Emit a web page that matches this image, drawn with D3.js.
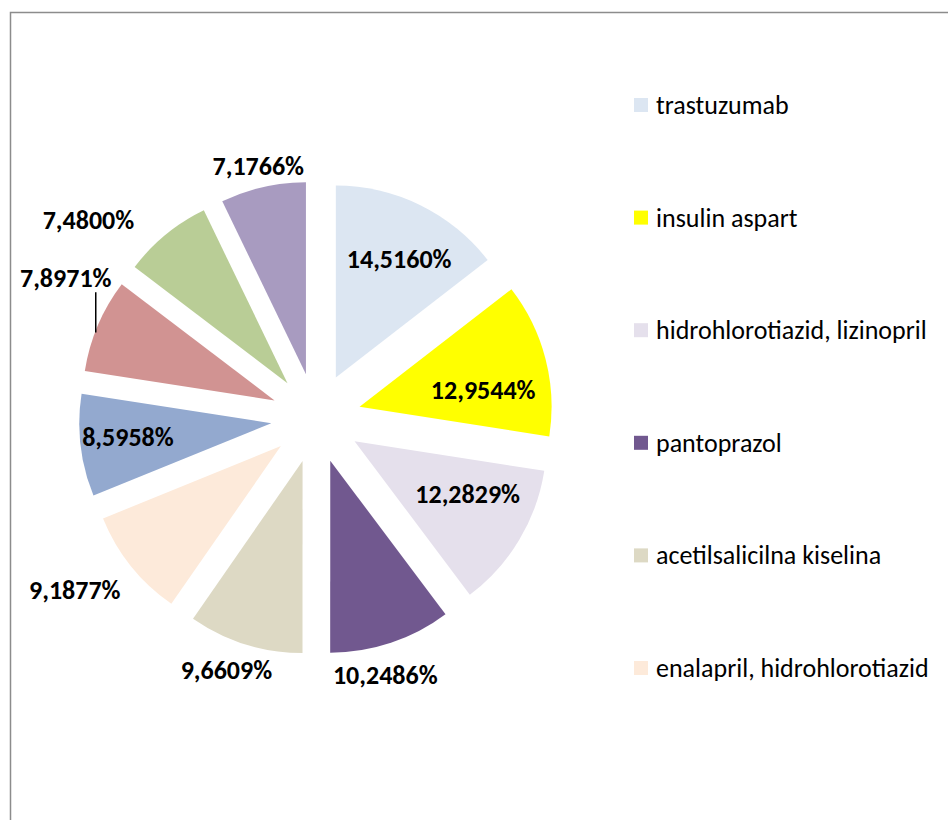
<!DOCTYPE html>
<html>
<head>
<meta charset="utf-8">
<script src="https://cdn.jsdelivr.net/npm/d3@7"></script>
<style>
  body { margin: 0; background: #fff; }
  svg { display: block; font-family: Carlito, Calibri, Lato, sans-serif; }
</style>
</head>
<body>
<svg id="piechart"></svg>
<script>
// slice names (only the first six appear in the legend of the original)
var categories = ["trastuzumab", "insulin aspart", "hidrohlorotiazid, lizinopril",
    "pantoprazol", "acetilsalicilna kiselina", "enalapril, hidrohlorotiazid",
    "", "", "", ""];
var shares = [14.5160, 12.9544, 12.2829, 10.2486, 9.6609, 9.1877, 8.5958, 7.8971, 7.4800, 7.1766];
var labels = ["14,5160%", "12,9544%", "12,2829%", "10,2486%", "9,6609%",
    "9,1877%", "8,5958%", "7,8971%", "7,4800%", "7,1766%"];
var colors = ["#dce6f2", "#ffff00", "#e5e0ec", "#71588f", "#ddd9c4",
    "#fdeada", "#93a9cf", "#d19392", "#b9cd96", "#a89bc0"];
var legendCount = 6;

var dimensions = {
    width: 948,
    height: 820,
    cx: 316,
    cy: 418,
    radius: 192,
    explode: 45
}

// label placement: distance as a fraction of the radius, and turn in degrees
var labelRadius = [0.70, 0.65, 0.65, 1.15, 1.16, 1.31, 0.75, 1.26, 1.34, 1.11];
var labelTurn = [2, 6.6, -6, 4, 2.6, 3.7, 1.2, 7.3, -11.4, 0];

var svg = d3.select("#piechart")
    .attr("width", dimensions.width)
    .attr("height", dimensions.height)

// chart area border (only top and left are inside the picture)
svg.append("path")
    .attr("d", "M10.5," + dimensions.height + "V12.5H" + (dimensions.width + 5))
    .attr("fill", "none")
    .attr("stroke", "#8c8c8c")
    .attr("stroke-width", 1.5)

var pie = d3.pie().sort(null).value(function(d) { return d; })
var arcs = pie(shares)

var arc = d3.arc().innerRadius(0).outerRadius(dimensions.radius)

function offset(d) {
    var a = (d.startAngle + d.endAngle) / 2
    return [dimensions.explode * Math.sin(a), -dimensions.explode * Math.cos(a)]
}

var g = svg.append("g")
    .attr("transform", "translate(" + dimensions.cx + "," + dimensions.cy + ")")

g.selectAll("path.slice")
    .data(arcs)
    .enter()
    .append("path")
    .attr("class", "slice")
    .attr("d", arc)
    .attr("fill", function(d, i) { return colors[i] })
    .attr("transform", function(d) {
        var o = offset(d)
        return "translate(" + o[0] + "," + o[1] + ")"
    })

function labelPos(d, i) {
    var o = offset(d)
    var a = (d.startAngle + d.endAngle) / 2 + labelTurn[i] * Math.PI / 180
    var r = labelRadius[i] * dimensions.radius
    return [o[0] + r * Math.sin(a), o[1] - r * Math.cos(a)]
}

g.selectAll("text.lab")
    .data(arcs)
    .enter()
    .append("text")
    .attr("class", "lab")
    .attr("x", function(d, i) { return labelPos(d, i)[0] })
    .attr("y", function(d, i) { return labelPos(d, i)[1] })
    .attr("text-anchor", "middle")
    .attr("dominant-baseline", "central")
    .attr("font-size", 26)
    .attr("font-weight", "bold")
    .attr("fill", "#000")
    .text(function(d, i) { return labels[i] })

// leader line for the 7,8971% label
var lead = arcs[7]
var lp = labelPos(lead, 7)
var lo = offset(lead)
var lx = lp[0] + 30
var dx = lx - lo[0]
var ly = lo[1] - Math.sqrt(dimensions.radius * dimensions.radius - dx * dx) + 2
g.append("line")
    .attr("x1", lx).attr("x2", lx)
    .attr("y1", lp[1] + 14).attr("y2", ly)
    .attr("stroke", "#000")
    .attr("stroke-width", 1.5)

// legend
var legendScale = d3.scaleLinear().domain([0, 1]).range([105, 217.6])

var legend = svg.append("g")
    .selectAll("g")
    .data(categories.slice(0, legendCount))
    .enter()
    .append("g")
    .attr("transform", function(d, i) { return "translate(634," + legendScale(i) + ")" })

legend.append("rect")
    .attr("x", 0).attr("y", -7)
    .attr("width", 14).attr("height", 14)
    .attr("fill", function(d, i) { return colors[i] })

legend.append("text")
    .attr("x", 22)
    .attr("y", 0)
    .attr("dominant-baseline", "central")
    .attr("font-size", 26)
    .attr("fill", "#000")
    .text(function(d) { return d })
</script>
</body>
</html>
